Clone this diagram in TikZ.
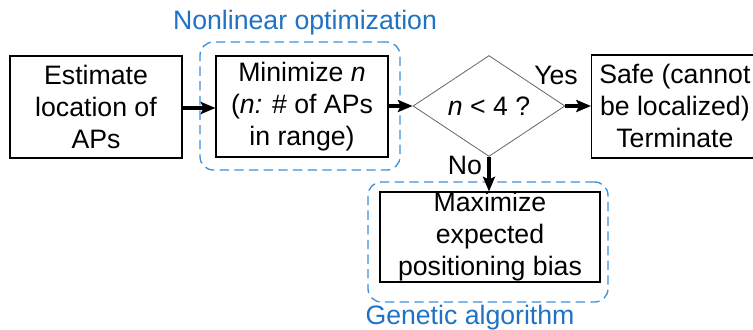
\documentclass[tikz,border=0pt]{standalone}
\usepackage{fontspec}
\setmainfont{Liberation Sans}
\usetikzlibrary{shapes.geometric,arrows.meta}
\definecolor{grpblue}{HTML}{1F72C4}
\definecolor{dashblue}{HTML}{3D8FDA}
\begin{document}
\begin{tikzpicture}[x=0.75pt,y=-0.75pt,
  every node/.style={font=\fontsize{20}{24}\selectfont, inner sep=0pt, align=center},
  stepbox/.style={draw=black, line width=0.8pt, fill=white},
  decision/.style={diamond, draw=gray!80!black, line width=0.6pt, fill=white},
  group/.style={draw=dashblue, line width=1pt, dash pattern=on 7pt off 4pt, rounded corners=10pt},
  grouplabel/.style={text=grpblue},
  flow/.style={draw=black, line width=2.4pt, -{Stealth[length=11pt,width=9pt,inset=2pt]}}]
  \useasboundingbox (0,0) rectangle (753,329);

  % dashed groupings
  \node[group, minimum width=200*0.75pt, minimum height=128*0.75pt] (g1) at (300,106) {};
  \node[group, minimum width=240*0.75pt, minimum height=120*0.75pt] (g2) at (488,242) {};
  \node[grouplabel] (l1) at (305,23) {Nonlinear optimization};
  \node[grouplabel] (l2) at (470,318) {Genetic algorithm};

  % process steps
  \node[stepbox, minimum width=172*0.75pt, minimum height=102*0.75pt] (est) at (96,107)
    {Estimate\\location of\\APs};
  \node[stepbox, minimum width=172*0.75pt, minimum height=101*0.75pt] (min) at (302,106.5)
    {Minimize \textit{n}\\(\textit{n:} \# of APs\\in range)};
  \node[decision, minimum width=152*0.75pt, minimum height=90*0.75pt] (dec) at (489,106)
    {\textit{n} < 4 ?};
  \node[stepbox, minimum width=200*0.75pt, minimum height=103*0.75pt, anchor=west] (safe) at (591,106.5) {};
  \node[anchor=west] (safet) at (599,106) {Safe (cannot\\be localized)\\Terminate};
  \node[stepbox, minimum width=220*0.75pt, minimum height=90*0.75pt] (maxb) at (490,237)
    {Maximize\\expected\\positioning bias};

  % connectors
  \draw[flow] (est.east |- 0,108) -- (min.west |- 0,108);
  \draw[flow] (min.east |- 0,106) -- (dec.west);
  \draw[flow] (dec.east) -- (safe.west |- dec.east);
  \draw[flow] (dec.south) -- (maxb.north -| dec.south);
  \node (yes) at (556,75) {Yes};
  \node (no) at (465,165) {No};
\end{tikzpicture}
\end{document}
